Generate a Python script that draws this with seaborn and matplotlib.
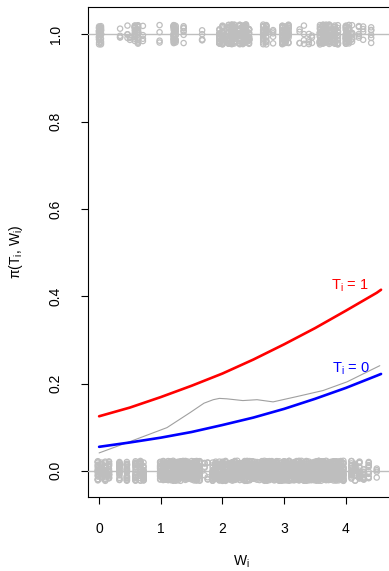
import numpy as np
import pandas as pd
import matplotlib
matplotlib.use("Agg")
import matplotlib.pyplot as plt
import seaborn as sns

# ---- observed outcomes (columns of W values, number of points per column) ----
zero_W = [-0.02, 0.04, 0.10, 0.16, 0.33, 0.45, 0.59, 0.67, 0.72, 0.99, 1.04, 1.08,
          1.12, 1.16, 1.20, 1.24, 1.28, 1.32, 1.36, 1.40, 1.44, 1.50, 1.54, 1.58, 1.63,
          1.71, 1.76, 1.84, 1.89, 1.95, 2.00, 2.05,
          2.12, 2.16, 2.20, 2.24, 2.28, 2.32, 2.36, 2.40, 2.44, 2.48, 2.52, 2.56,
          2.60, 2.64, 2.68, 2.72, 2.76, 2.80, 2.84, 2.88, 2.92, 2.96, 3.00, 3.04,
          3.08, 3.12, 3.16, 3.20, 3.24, 3.28, 3.32, 3.36, 3.40, 3.44, 3.48, 3.52,
          3.56, 3.60, 3.64, 3.68, 3.72, 3.76, 3.80, 3.84, 3.88, 3.92, 3.96,
          4.09, 4.15, 4.22, 4.29, 4.37, 4.50]
zero_n = [22, 22, 20, 20, 22, 22, 22, 18, 18, 22, 22, 22,
          22, 22, 22, 22, 22, 22, 22, 22, 22, 22, 22, 22, 22,
          5, 5, 22, 22, 22, 22, 22,
          22, 22, 22, 22, 22, 22, 22, 22, 22, 22, 22, 22,
          22, 22, 22, 22, 22, 22, 22, 22, 22, 22, 22, 22,
          22, 22, 22, 22, 22, 22, 22, 22, 22, 22, 22, 22,
          22, 22, 22, 22, 22, 22, 22, 22, 22, 22, 22,
          18, 18, 18, 14, 10, 4]
one_W = [0.00, 0.03, 0.34, 0.46, 0.50, 0.58, 0.63, 0.71, 0.98, 1.21, 1.24, 1.37,
         1.67, 1.95, 2.00, 2.10, 2.15, 2.19, 2.28, 2.33, 2.38, 2.43, 2.66, 2.71,
         2.82, 2.97, 3.02, 3.07, 3.25, 3.32, 3.40, 3.45, 3.58, 3.63, 3.68, 3.73,
         3.82, 3.87, 4.00, 4.05, 4.10, 4.21, 4.28, 4.41]
one_n = [22, 14, 4, 4, 3, 18, 18, 4, 4, 22, 14, 7,
         5, 22, 22, 22, 22, 22, 22, 22, 22, 22, 18, 18,
         5, 22, 22, 18, 4, 4, 4, 3, 22, 22, 22, 22,
         22, 14, 22, 18, 10, 5, 4, 6]

# ---- fitted probabilities ----
curve_W = [0.0, 0.5, 1.0, 1.5, 2.0, 2.5, 3.0, 3.5, 4.0, 4.5, 4.57]
p_treated = [0.125, 0.145, 0.169, 0.195, 0.223, 0.255, 0.290, 0.327, 0.367, 0.408, 0.415]
p_control = [0.055, 0.065, 0.076, 0.089, 0.105, 0.122, 0.142, 0.165, 0.190, 0.218, 0.222]

# ---- smoothed observed outcome ----
smooth_W = [0.0, 0.5, 1.1, 1.47, 1.7, 1.85, 1.95, 2.07, 2.33, 2.56, 2.82, 3.2, 3.63, 4.02, 4.55]
smooth_p = [0.041, 0.067, 0.099, 0.133, 0.155, 0.163, 0.166, 0.165, 0.161, 0.163, 0.158,
            0.170, 0.184, 0.204, 0.241]

label_texts = ["T$_{\\mathregular{i}}$ = 1", "T$_{\\mathregular{i}}$ = 0"]
x_ticks = [0, 1, 2, 3, 4]
y_ticks = [0.0, 0.2, 0.4, 0.6, 0.8, 1.0]

sns.set_theme(style="white")
plt.rcParams["font.family"] = ["Liberation Sans", "DejaVu Sans"]
plt.rcParams["mathtext.fontset"] = "custom"
plt.rcParams["mathtext.rm"] = "Liberation Sans"
plt.rcParams["mathtext.it"] = "Liberation Sans:italic"
plt.rcParams["mathtext.sf"] = "Liberation Sans"

fig = plt.figure(figsize=(3.89, 5.71), dpi=100)
ax = fig.add_axes([88 / 389, 1 - 497 / 571, 306 / 389, 490 / 571])

obs = pd.DataFrame({
    "W": np.repeat(zero_W + one_W, zero_n + one_n),
    "Y": [0] * sum(zero_n) + [1] * sum(one_n),
})
np.random.seed(7)
sns.stripplot(data=obs, x="W", y="Y", orient="h", native_scale=True, jitter=0.023,
              size=3.8, linewidth=0.9, color="#BEBEBE", edgecolor="#BEBEBE", ax=ax, zorder=2)
for coll in ax.collections:
    coll.set_facecolor("none")
    coll.set_edgecolor("#BEBEBE")
    coll.set_linewidth(0.9)

ax.axhline(0, color="#BEBEBE", lw=1.0, zorder=3)
ax.axhline(1, color="#BEBEBE", lw=1.0, zorder=3)

sns.lineplot(x=smooth_W, y=smooth_p, color="#A0A0A0", lw=0.8, ax=ax, zorder=4)
sns.lineplot(x=curve_W, y=p_treated, color="#FF0000", lw=1.9, ax=ax, zorder=5)
sns.lineplot(x=curve_W, y=p_control, color="#0000FF", lw=1.9, ax=ax, zorder=5)

ax.text(4.07, 0.424, label_texts[0], color="#FF0000", fontsize=10.5, ha="center", va="center")
ax.text(4.08, 0.234, label_texts[1], color="#0000FF", fontsize=10.5, ha="center", va="center")

ax.set_xlim(-0.18, 4.78)
ax.set_ylim(-0.06, 1.063)
ax.set_xticks(x_ticks)
ax.set_xticklabels([str(v) for v in x_ticks])
ax.set_yticks(y_ticks)
ax.set_yticklabels([f"{v:.1f}" for v in y_ticks], rotation=90, va="center")

ax.tick_params(axis="both", direction="out", length=5, width=0.8, color="black",
               labelsize=10, labelcolor="black", pad=13, bottom=True, left=True)
for sp in ax.spines.values():
    sp.set_visible(True)
    sp.set_color("black")
    sp.set_linewidth(0.8)

ax.set_xlabel("W$_{\\mathregular{i}}$", fontsize=10, color="black")
ax.set_ylabel("π(T$_{\\mathregular{i}}$, W$_{\\mathregular{i}}$)", fontsize=10, color="black")
ax.xaxis.set_label_coords(0.5, -0.116)
ax.yaxis.set_label_coords(-0.205, 0.5)
ax.grid(False)

fig.savefig("out.png", dpi=100)
